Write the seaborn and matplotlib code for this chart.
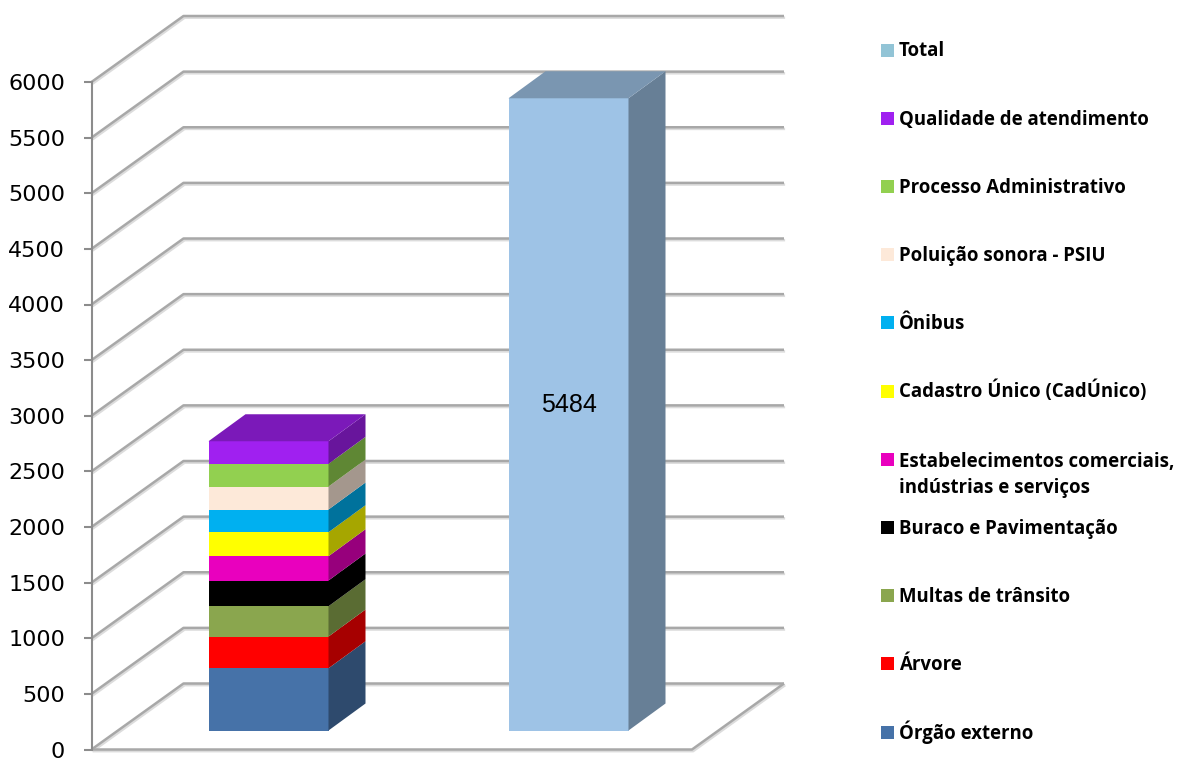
import numpy as np
import pandas as pd
import matplotlib
matplotlib.use("Agg")
import matplotlib.pyplot as plt
import matplotlib.patheffects as pe
from matplotlib.patches import Polygon, Rectangle
from matplotlib.colors import to_rgb
import seaborn as sns

# 1. Dados
grupos = ["Assuntos", "Total"]
categorias = [
    "Órgão externo",
    "Árvore",
    "Multas de trânsito",
    "Buraco e Pavimentação",
    "Estabelecimentos comerciais,\nindústrias e serviços",
    "Cadastro Único (CadÚnico)",
    "Ônibus",
    "Poluição sonora - PSIU",
    "Processo Administrativo",
    "Qualidade de atendimento",
]
valores = [540, 275, 263, 223, 211, 208, 197, 199, 197, 196]
cores = ["#4672A8", "#FF0000", "#8AA64E", "#000000", "#E900BE",
         "#FFFF00", "#00B0F0", "#FDE9D9", "#92D050", "#A020F0"]
total = 5484
cor_total = "#9EC3E6"
cor_total_legenda = "#92C4D6"
yticks = list(range(0, 6001, 500))

# 2. Layout (pixels da figura)
W_PX, H_PX = 1180, 758
AX_L, AX_R = 91.5, 692          # borda frontal do piso
WALL_TOP, WALL_BOT = 82, 749.5  # 6000 e 0 no eixo frontal
BAR_TOP, BAR_BOT = 38.8, 730.5  # 6000 e 0 no plano das colunas
C0, C1 = 268.5, 568.5           # centros das colunas
BAR_W = 0.4
LINE_PX = 27                    # entrelinha da legenda


def fig_box(left, right, top, bottom):
    return [left / W_PX, 1 - bottom / H_PX, (right - left) / W_PX, (bottom - top) / H_PX]


def shade(c, f):
    return tuple(np.array(to_rgb(c)) * f)


sns.set_theme(style="white")
plt.rcParams["font.family"] = ["DejaVu Sans"]
fig = plt.figure(figsize=(W_PX / 100, H_PX / 100), dpi=100)

# 3. Paredes e grade (fundo)
ax_bg = fig.add_axes(fig_box(AX_L, AX_R, WALL_TOP, WALL_BOT))
ax_bg.set_facecolor("none")
ax_bg.set_xlim(0, 1)
ax_bg.set_ylim(0, 6000)
wall_dx = 92 / (AX_R - AX_L)
wall_dy = 66 / ((WALL_BOT - WALL_TOP) / 6000)
grid_kw = dict(color="#a8a8a8", lw=1.8, clip_on=False, solid_capstyle="butt",
               path_effects=[pe.SimpleLineShadow(offset=(0.8, -1.2), shadow_color="#dcdcdc", alpha=1),
                             pe.Normal()])
for v in yticks:
    ax_bg.plot([0, wall_dx, 1 + wall_dx], [v, v + wall_dy, v + wall_dy], **grid_kw)
ax_bg.plot([0, 1, 1 + wall_dx], [0, 0, wall_dy], **grid_kw)

ax_bg.set_xticks([])
ax_bg.set_yticks(yticks)
ax_bg.tick_params(axis="y", left=True, length=6, width=1.5, color="#8c8c8c",
                  labelsize=16, labelcolor="black", pad=13)
for s in ["top", "right", "bottom"]:
    ax_bg.spines[s].set_visible(False)
ax_bg.spines["left"].set_color("#8c8c8c")
ax_bg.spines["left"].set_linewidth(1.5)

# 4. Colunas (plano das colunas)
ax_bar = fig.add_axes(fig_box(AX_L, AX_R, BAR_TOP, BAR_BOT))
df = pd.DataFrame({"categoria": categorias, "valor": valores, "cor": cores})
df["topo"] = df["valor"].cumsum()
df["base"] = df["topo"] - df["valor"]

# empilhado: desenha os acumulados de cima para baixo
for _, r in df.iloc[::-1].iterrows():
    sns.barplot(x=[grupos[0]], y=[r["topo"]], order=grupos, color=r["cor"], saturation=1,
                width=BAR_W, errorbar=None, linewidth=0, ax=ax_bar)
sns.barplot(x=[grupos[1]], y=[total], order=grupos, color=cor_total, saturation=1,
            width=BAR_W, errorbar=None, linewidth=0, ax=ax_bar)

sp = C1 - C0
ax_bar.set_xlim(-(C0 - AX_L) / sp, (AX_R - C0) / sp)
ax_bar.set_ylim(0, 6000)
ax_bar.axis("off")
ax_bar.patch.set_alpha(0)

# faces laterais e superiores (efeito 3D)
dx = 37 / sp
dy = 27 / ((BAR_BOT - BAR_TOP) / 6000)


def face_lateral(x1, b, t, c):
    ax_bar.add_patch(Polygon([(x1, b), (x1, t), (x1 + dx, t + dy), (x1 + dx, b + dy)],
                             closed=True, fc=shade(c, 0.65), ec="none", clip_on=False))


def face_topo(x0, x1, t, c):
    ax_bar.add_patch(Polygon([(x0, t), (x1, t), (x1 + dx, t + dy), (x0 + dx, t + dy)],
                             closed=True, fc=shade(c, 0.77), ec="none", clip_on=False))


x0, x1 = 0 - BAR_W / 2, 0 + BAR_W / 2
for _, r in df.iterrows():
    face_lateral(x1, r["base"], r["topo"], r["cor"])
face_topo(x0, x1, df["topo"].iloc[-1], df["cor"].iloc[-1])

x0, x1 = 1 - BAR_W / 2, 1 + BAR_W / 2
face_lateral(x1, 0, total, cor_total)
face_topo(x0, x1, total, cor_total)

ax_bar.annotate(f"{total}", xy=(1, total / 2), xytext=(0, 7), textcoords="offset points",
                ha="center", va="center", fontsize=18, family=["Liberation Sans"], color="black")

# 5. Legenda
leg_labels = ["Total"] + categorias[::-1]
leg_colors = [cor_total_legenda] + cores[::-1]
for i, (lab, col) in enumerate(zip(leg_labels, leg_colors)):
    yc = 50 + i * 68.2
    fig.add_artist(Rectangle((881 / W_PX, 1 - (yc + 6.5) / H_PX), 13 / W_PX, 13 / H_PX,
                             transform=fig.transFigure, fc=col, ec="none"))
    # a linha de base é a da última linha do texto
    y_base = yc + 6.5 + lab.count("\n") * LINE_PX
    fig.text(899 / W_PX, 1 - y_base / H_PX, lab, ha="left", va="baseline",
             fontsize=13.4, fontweight="bold", family=["Open Sans", "DejaVu Sans"],
             linespacing=1.4, color="black")

fig.savefig("out.png", dpi=100)
